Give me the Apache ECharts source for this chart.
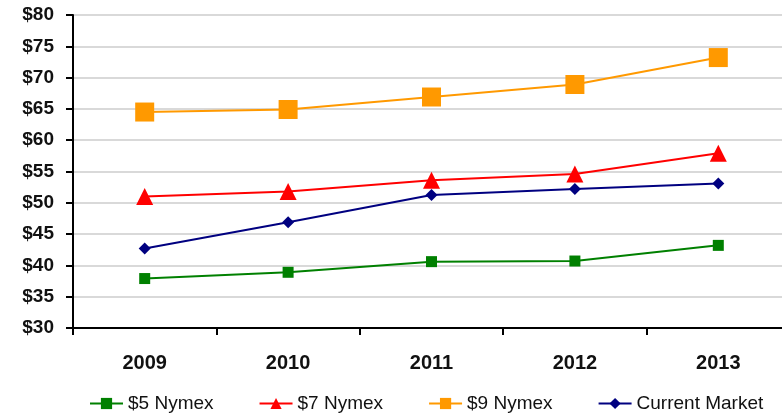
<!DOCTYPE html>
<html>
<head>
<meta charset="utf-8">
<script src="https://cdn.jsdelivr.net/npm/echarts@6/dist/echarts.min.js"></script>
<style>html,body{margin:0;padding:0;background:#fff}#c{width:782px;height:414px}</style>
</head>
<body>
<div id="c"></div>
<script>
const years = ['2009', '2010', '2011', '2012', '2013'];
const nymex5 = [37.9, 38.9, 40.6, 40.7, 43.2];
const nymex7 = [51.0, 51.8, 53.6, 54.6, 57.9];
const nymex9 = [64.5, 64.9, 66.9, 68.9, 73.2];
const currentMarket = [42.7, 46.9, 51.25, 52.2, 53.1];
const yTicks = {min: 30, max: 80, step: 5};

const font = 'Liberation Sans, Arial, sans-serif';
const chart = echarts.init(document.getElementById('c'));
function mk(name, data, color, symbol, size) {
  return {
    name, type: 'line', data, symbol, symbolSize: size,
    lineStyle: {color, width: 2}, itemStyle: {color},
    animation: false
  };
}
chart.setOption({
  animation: false,
  grid: {left: 73, right: -8, top: 15, bottom: 86, outerBoundsMode: 'none', containLabel: false},
  xAxis: {
    type: 'category', data: years, boundaryGap: true,
    axisLine: {lineStyle: {color: '#000', width: 2}},
    axisTick: {show: true, length: 7, lineStyle: {color: '#000', width: 2}},
    axisLabel: {fontFamily: font, fontSize: 20, fontWeight: 'bold', color: '#111', margin: 25}
  },
  yAxis: {
    type: 'value', min: yTicks.min, max: yTicks.max, interval: yTicks.step,
    axisLine: {show: true, lineStyle: {color: '#000', width: 2}},
    axisTick: {show: true, length: 7, lineStyle: {color: '#000', width: 2}},
    splitLine: {lineStyle: {color: '#cccccc', width: 1.5}},
    axisLabel: {fontFamily: font, fontSize: 19, fontWeight: 'bold', color: '#111', margin: 19,
      formatter: v => '$' + v}
  },
  legend: {
    left: 84, top: 389, width: 700, itemWidth: 33, itemHeight: 14, itemGap: 45,
    textStyle: {fontFamily: font, fontSize: 19, color: '#111'},
    data: ['$5 Nymex', '$7 Nymex', '$9 Nymex', 'Current Market']
  },
  series: [
    mk('$5 Nymex', nymex5, '#008000', 'rect', 11),
    mk('$7 Nymex', nymex7, '#ff0000', 'triangle', 17),
    mk('$9 Nymex', nymex9, '#ff9900', 'rect', 19),
    mk('Current Market', currentMarket, '#000080', 'diamond', 12)
  ]
});
</script>
</body>
</html>
